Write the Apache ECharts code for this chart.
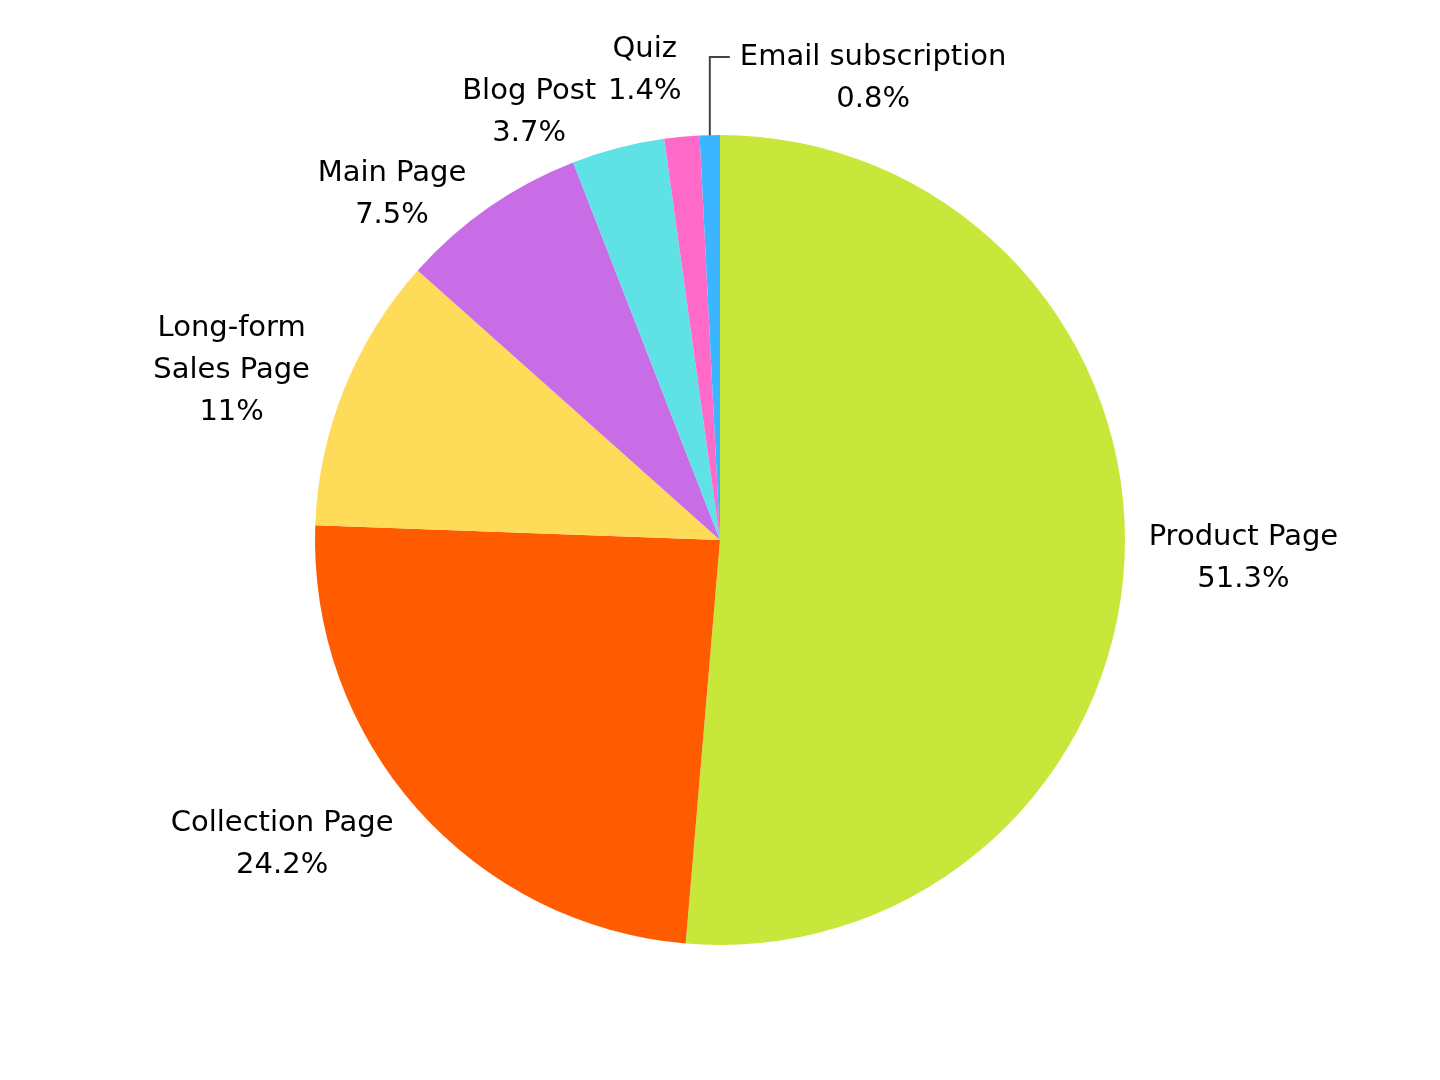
<!DOCTYPE html>
<html>
<head>
<meta charset="utf-8">
<script src="https://cdn.jsdelivr.net/npm/echarts@6/dist/echarts.min.js"></script>
<style>
  html, body {margin:0;padding:0;background:#ffffff;}
  #chart {width:1440px;height:1080px;}
</style>
</head>
<body>
<div id="chart"></div>
<script>
// slices, clockwise from 12 o'clock
var pageNames = ['Product Page', 'Collection Page', 'Long-form\nSales Page', 'Main Page', 'Blog Post', 'Quiz', 'Email subscription'];
var pageShares = [51.3, 24.2, 11, 7.5, 3.7, 1.4, 0.8];
var pageLabels = ['51.3%', '24.2%', '11%', '7.5%', '3.7%', '1.4%', '0.8%'];
var sliceColors = ['#c7e73a', '#ff5b00', '#ffdb5a', '#c86de5', '#5ee2e6', '#ff6ac8', '#3bb5ff'];

var FONT = 'DejaVu Sans';
var FSIZE = 29;
var LINE_H = 42;

var myChart = echarts.init(document.getElementById('chart'));

var pieData = [];
for (var i = 0; i < pageNames.length; i++) {
    pieData.push({name: pageNames[i], value: pageShares[i], pct: pageLabels[i]});
}

var measureCtx = document.createElement('canvas').getContext('2d');
measureCtx.font = FSIZE + 'px "' + FONT + '"';

function boxOf(i) {
    var lines = (pageNames[i] + '\n' + pageLabels[i]).split('\n');
    var w = 0;
    lines.forEach(function (l) { w = Math.max(w, measureCtx.measureText(l).width); });
    return {w: w, h: lines.length * LINE_H};
}

// label centres, plotly style: box pushed out from the arc midpoint
var placed = null;
function computePlacement() {
    var data = myChart.getModel().getSeriesByIndex(0).getData();
    var out = [];
    for (var i = 0; i < pageNames.length; i++) {
        var lay = data.getItemLayout(i);
        var mid = (lay.startAngle + lay.endAngle) / 2;
        var c = Math.cos(mid), s = Math.sin(mid);
        var px = (lay.r + 3) * c;
        var py = (lay.r + 25) * s;
        var b = boxOf(i);
        var sx = px < 0 ? -b.w / 2 : b.w / 2;
        var sy = py < 0 ? -b.h / 2 : b.h / 2;
        var side = Math.max(0, Math.min(1, (Math.abs(c) - 0.1) * 8));
        var tx = sx + Math.abs(sy) * (sx > 0 ? 1 : -1) / 2 * side;
        var ty = sy / (1 + px * px / (py * py));
        out.push({x: lay.cx + px + tx, y: lay.cy + py + ty, w: b.w, h: b.h, lay: lay, mid: mid});
    }
    // top-left labels, going down from the top: scoot each one below the one above it
    for (var k = pageNames.length - 3; k >= 2; k--) {
        var up = out[k + 1], me = out[k];
        if (me.y - up.y < LINE_H) {
            me.y = up.y + up.h / 2;
        } else {
            var hOverlap = (me.x + me.w / 2 + 10 > up.x - up.w / 2) && (me.x - me.w / 2 - 10 < up.x + up.w / 2);
            var minY = up.y + (up.h + me.h) / 2 - 2;
            if (hOverlap && me.y < minY) me.y = minY;
        }
    }
    return out;
}

function placeLabel(params) {
    if (!placed) placed = computePlacement();
    var p = placed[params.dataIndex];
    // the thin email slice gets a leader line and is moved to the right
    if (params.dataIndex === pageNames.length - 1) {
        var ex = p.lay.cx + p.lay.r * Math.cos(p.mid);
        var ey = p.lay.cy + p.lay.r * Math.sin(p.mid);
        var lineY = 57;
        return {
            x: ex + 30,
            y: lineY - LINE_H / 2,
            align: 'left',
            verticalAlign: 'top',
            labelLinePoints: [[ex, ey + 13], [ex, lineY], [ex + 20, lineY]]
        };
    }
    return {x: p.x, y: p.y, align: 'center', verticalAlign: 'middle'};
}

var option = {
    backgroundColor: '#ffffff',
    color: sliceColors,
    animation: false,
    series: [{
        type: 'pie',
        center: [720, 540],
        radius: [0, 405],
        startAngle: 90,
        clockwise: true,
        avoidLabelOverlap: false,
        data: pieData.map(function (d, i) {
            return i === pageNames.length - 1 ? d : Object.assign({}, d, {labelLine: {show: false}});
        }),
        itemStyle: {borderWidth: 0},
        label: {
            show: true,
            position: 'outside',
            formatter: function (p) {
                if (p.dataIndex === pageNames.length - 1) {
                    return '{l|' + p.name + '}\n{c|' + p.data.pct + '}';
                }
                return p.name + '\n' + p.data.pct;
            },
            fontFamily: FONT,
            fontSize: FSIZE,
            lineHeight: LINE_H,
            color: '#000000',
            align: 'center',
            rich: {
                l: {fontFamily: FONT, fontSize: FSIZE, lineHeight: LINE_H, color: '#000000'},
                c: {fontFamily: FONT, fontSize: FSIZE, lineHeight: LINE_H, color: '#000000', align: 'center',
                    width: measureCtx.measureText('Email subscription').width}
            }
        },
        labelLine: {
            show: true,
            lineStyle: {color: '#444444', width: 2}
        },
        labelLayout: placeLabel
    }]
};

myChart.setOption(option);
</script>
</body>
</html>
